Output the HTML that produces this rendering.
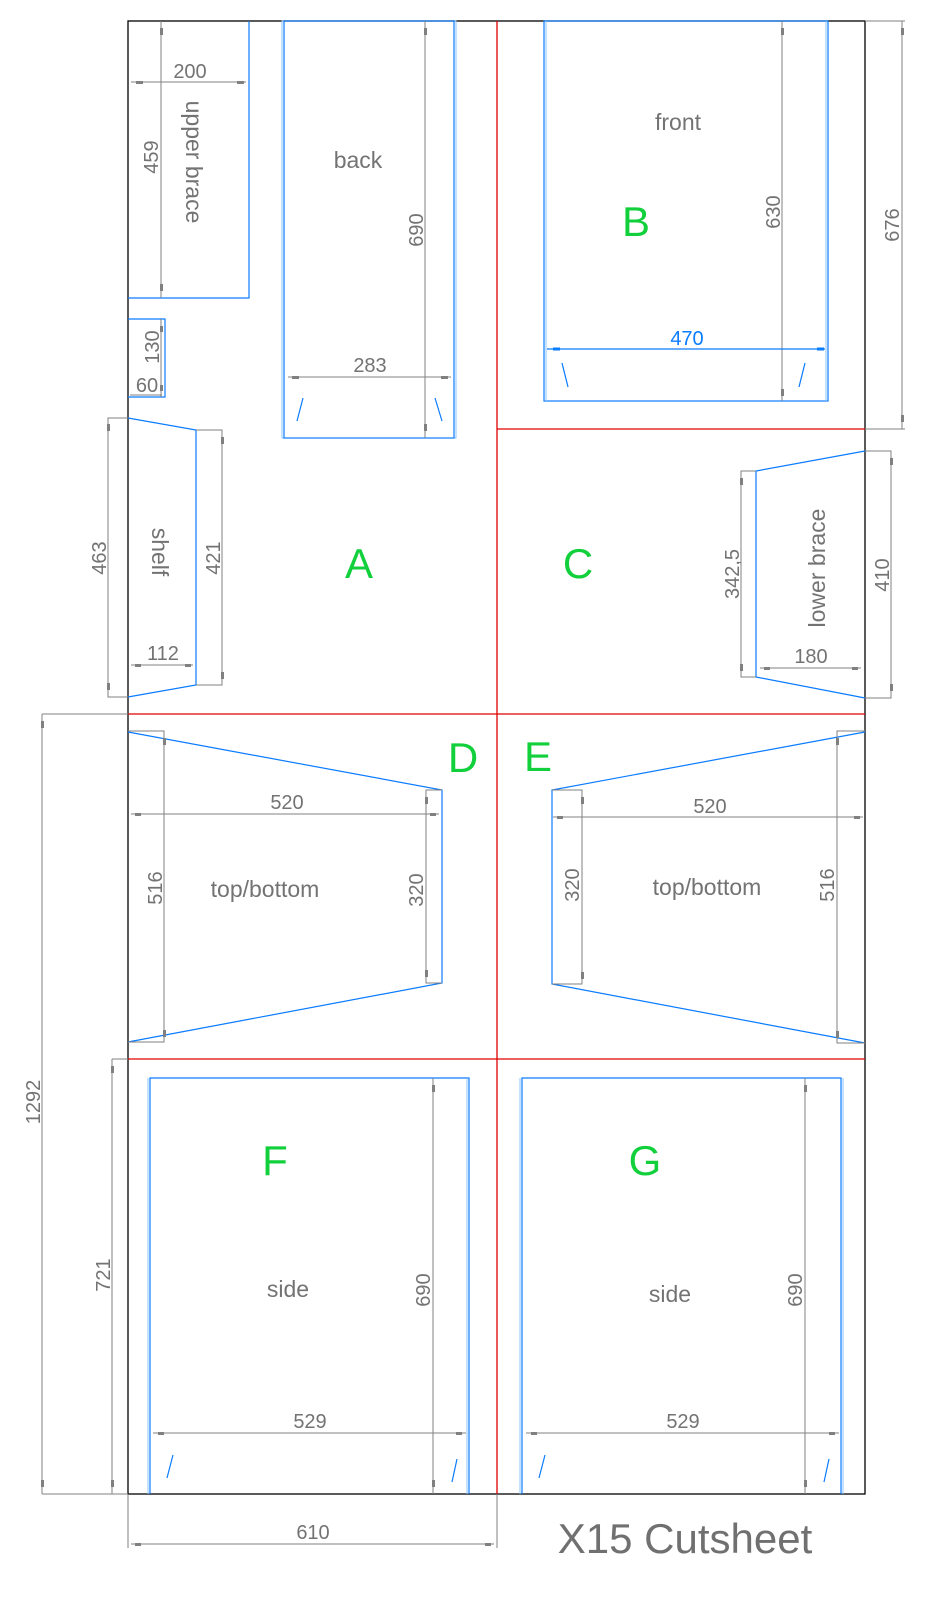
<!DOCTYPE html>
<html><head><meta charset="utf-8"><style>
html,body{margin:0;padding:0;background:#fff;}
svg{display:block;}
text{font-family:"Liberation Sans",sans-serif;fill:#737373;}
.d{stroke:#808080;stroke-width:1;fill:none;}
.b{stroke:#0a7cff;stroke-width:1.2;fill:none;}
.lb{stroke:#8cc4ff;stroke-width:1;fill:none;}
.r{stroke:#e00000;stroke-width:1.3;}
.g{fill:#12d03c;font-size:42px;}
.n{font-size:20px;}
.l{font-size:23px;}
.t{fill:#808080;}
</style></head><body>
<svg width="932" height="1600" viewBox="0 0 932 1600" xmlns="http://www.w3.org/2000/svg">
<!-- outer -->
<rect x="128" y="21" width="737" height="1473" fill="none" stroke="#000" stroke-width="1.3"/>
<line class="r" x1="497" y1="21" x2="497" y2="1494"/>
<line class="r" x1="497" y1="429" x2="865" y2="429"/>
<line class="r" x1="128" y1="714" x2="865" y2="714"/>
<line class="r" x1="128" y1="1059" x2="865" y2="1059"/>

<!-- upper brace -->
<polyline class="b" points="128,298 249,298 249,21"/>
<line class="d" x1="161" y1="21" x2="161" y2="298"/>
<rect class="t" x="160" y="28" width="3" height="7"/><rect class="t" x="160" y="284" width="3" height="7"/>
<line class="d" x1="131" y1="82" x2="246" y2="82"/>
<rect class="t" x="136" y="81" width="7" height="3"/><rect class="t" x="237" y="81" width="7" height="3"/>
<text class="n" x="190" y="78" text-anchor="middle">200</text>
<text class="n" x="158" y="157" text-anchor="middle" transform="rotate(-90 158 157)">459</text>
<text class="l" x="186" y="162" text-anchor="middle" transform="rotate(90 186 162)">upper brace</text>

<!-- small -->
<polyline class="b" points="128,319 165,319 165,397 128,397"/>
<line class="d" x1="161" y1="319" x2="161" y2="397"/>
<rect class="t" x="160" y="326" width="3" height="6"/><rect class="t" x="160" y="385" width="3" height="6"/>
<line class="d" x1="130" y1="395" x2="162" y2="395"/>
<text class="n" x="159" y="347" text-anchor="middle" transform="rotate(-90 159 347)">130</text>
<text class="n" x="147" y="392" text-anchor="middle">60</text>

<!-- back -->
<rect class="lb" x="282" y="21" width="174" height="417"/>
<rect class="b" x="284" y="21" width="170" height="417"/>
<line class="d" x1="425" y1="21" x2="425" y2="438"/>
<rect class="t" x="424" y="28" width="3" height="7"/><rect class="t" x="424" y="424" width="3" height="7"/>
<line class="d" x1="288" y1="377" x2="451" y2="377"/>
<rect class="t" x="292" y="376" width="7" height="3"/><rect class="t" x="441" y="376" width="7" height="3"/>
<text class="n" x="370" y="372" text-anchor="middle">283</text>
<text class="n" x="423" y="230" text-anchor="middle" transform="rotate(-90 423 230)">690</text>
<text class="l" x="358" y="168" text-anchor="middle">back</text>
<line class="b" x1="303" y1="398" x2="297" y2="421" stroke-width="2"/>
<line class="b" x1="435" y1="398" x2="442" y2="421" stroke-width="2"/>

<!-- front B -->
<rect class="b" x="544" y="21" width="284" height="380"/>
<line class="lb" x1="546" y1="21" x2="546" y2="401"/>
<line class="lb" x1="826" y1="21" x2="826" y2="401"/>
<line class="d" x1="782" y1="21" x2="782" y2="401"/>
<rect class="t" x="781" y="28" width="3" height="7"/><rect class="t" x="781" y="389" width="3" height="7"/>
<text class="n" x="780" y="212" text-anchor="middle" transform="rotate(-90 780 212)">630</text>
<line class="d" x1="865" y1="21" x2="905" y2="21"/>
<line class="d" x1="865" y1="429" x2="905" y2="429"/>
<line class="d" x1="902" y1="21" x2="902" y2="429"/>
<rect class="t" x="901" y="28" width="3" height="7"/><rect class="t" x="901" y="415" width="3" height="7"/>
<text class="n" x="899" y="225" text-anchor="middle" transform="rotate(-90 899 225)">676</text>
<line x1="547" y1="349" x2="825" y2="349" stroke="#0a7cff" stroke-width="1.3"/>
<rect x="553" y="347.5" width="7" height="3" fill="#0a7cff"/><rect x="817" y="347.5" width="7" height="3" fill="#0a7cff"/>
<text class="n" x="687" y="345" text-anchor="middle" style="fill:#0a7cff">470</text>
<text class="l" x="678" y="130" text-anchor="middle">front</text>
<text class="g" x="636" y="236" text-anchor="middle">B</text>
<line class="b" x1="562" y1="363" x2="568" y2="387" stroke-width="2"/>
<line class="b" x1="805" y1="363" x2="799" y2="387" stroke-width="2"/>

<!-- shelf -->
<polyline class="b" points="128,418 196,430 196,685 128,697"/>
<polyline class="d" points="128,418 108,418 108,697 128,697"/>
<rect class="t" x="107" y="424" width="3" height="7"/><rect class="t" x="107" y="683" width="3" height="7"/>
<polyline class="d" points="196,430 222,430 222,685 196,685"/>
<rect class="t" x="221" y="437" width="3" height="7"/><rect class="t" x="221" y="672" width="3" height="7"/>
<line class="d" x1="131" y1="665" x2="193" y2="665"/>
<rect class="t" x="135" y="664" width="6" height="3"/><rect class="t" x="185" y="664" width="6" height="3"/>
<text class="n" x="163" y="660" text-anchor="middle">112</text>
<text class="n" x="106" y="558" text-anchor="middle" transform="rotate(-90 106 558)">463</text>
<text class="n" x="220" y="558" text-anchor="middle" transform="rotate(-90 220 558)">421</text>
<text class="l" x="152" y="552" text-anchor="middle" transform="rotate(90 152 552)">shelf</text>
<text class="g" x="359" y="578" text-anchor="middle">A</text>
<text class="g" x="578" y="578" text-anchor="middle">C</text>

<!-- lower brace -->
<polyline class="b" points="865,451 756,471 756,677 865,698"/>
<polyline class="d" points="756,471 741,471 741,677 756,677"/>
<rect class="t" x="740" y="478" width="3" height="7"/><rect class="t" x="740" y="664" width="3" height="7"/>
<polyline class="d" points="865,451 891,451 891,698 865,698"/>
<rect class="t" x="890" y="458" width="3" height="7"/><rect class="t" x="890" y="684" width="3" height="7"/>
<line class="d" x1="760" y1="668" x2="861" y2="668"/>
<rect class="t" x="764" y="667" width="6" height="3"/><rect class="t" x="852" y="667" width="6" height="3"/>
<text class="n" x="811" y="663" text-anchor="middle">180</text>
<text class="n" x="739" y="574" text-anchor="middle" transform="rotate(-90 739 574)">342,5</text>
<text class="n" x="889" y="575" text-anchor="middle" transform="rotate(-90 889 575)">410</text>
<text class="l" x="825" y="568" text-anchor="middle" transform="rotate(-90 825 568)">lower brace</text>

<!-- D -->
<polyline class="b" points="128,732 442,790 442,983 128,1042"/>
<polyline class="d" points="128,731 164,731 164,1042 128,1042"/>
<rect class="t" x="163" y="738" width="3" height="7"/><rect class="t" x="163" y="1030" width="3" height="7"/>
<polyline class="d" points="442,790 426,790 426,983 442,983"/>
<rect class="t" x="425" y="797" width="3" height="7"/><rect class="t" x="425" y="970" width="3" height="7"/>
<line class="d" x1="131" y1="814" x2="439" y2="814"/>
<rect class="t" x="135" y="813" width="6" height="3"/><rect class="t" x="430" y="813" width="6" height="3"/>
<text class="n" x="287" y="809" text-anchor="middle">520</text>
<text class="n" x="162" y="888" text-anchor="middle" transform="rotate(-90 162 888)">516</text>
<text class="n" x="423" y="890" text-anchor="middle" transform="rotate(-90 423 890)">320</text>
<text class="l" x="265" y="897" text-anchor="middle">top/bottom</text>
<text class="g" x="463" y="772" text-anchor="middle">D</text>

<!-- E -->
<polyline class="b" points="865,732 552,790 552,984 865,1043"/>
<polyline class="d" points="552,790 582,790 582,984 552,984"/>
<rect class="t" x="581" y="797" width="3" height="7"/><rect class="t" x="581" y="972" width="3" height="7"/>
<polyline class="d" points="865,731 837,731 837,1043 865,1043"/>
<rect class="t" x="836" y="738" width="3" height="7"/><rect class="t" x="836" y="1031" width="3" height="7"/>
<line class="d" x1="553" y1="817" x2="863" y2="817"/>
<rect class="t" x="557" y="816" width="6" height="3"/><rect class="t" x="854" y="816" width="6" height="3"/>
<text class="n" x="710" y="813" text-anchor="middle">520</text>
<text class="n" x="579" y="885" text-anchor="middle" transform="rotate(-90 579 885)">320</text>
<text class="n" x="834" y="885" text-anchor="middle" transform="rotate(-90 834 885)">516</text>
<text class="l" x="707" y="895" text-anchor="middle">top/bottom</text>
<text class="g" x="538" y="771" text-anchor="middle">E</text>

<!-- F -->
<line class="lb" x1="148" y1="1078" x2="148" y2="1494"/>
<polyline class="b" points="150,1494 150,1078 469,1078 469,1494"/>
<line class="lb" x1="467" y1="1078" x2="467" y2="1494"/>
<line class="d" x1="433" y1="1078" x2="433" y2="1494"/>
<rect class="t" x="432" y="1085" width="3" height="7"/><rect class="t" x="432" y="1480" width="3" height="7"/>
<line class="d" x1="153" y1="1433" x2="466" y2="1433"/>
<rect class="t" x="158" y="1432" width="6" height="3"/><rect class="t" x="456" y="1432" width="6" height="3"/>
<text class="n" x="310" y="1428" text-anchor="middle">529</text>
<text class="n" x="430" y="1290" text-anchor="middle" transform="rotate(-90 430 1290)">690</text>
<text class="l" x="288" y="1297" text-anchor="middle">side</text>
<text class="g" x="275" y="1175" text-anchor="middle">F</text>
<line class="b" x1="173" y1="1455" x2="167" y2="1478" stroke-width="2"/>
<line class="b" x1="457" y1="1459" x2="452" y2="1482" stroke-width="2"/>

<!-- G -->
<line class="lb" x1="520" y1="1078" x2="520" y2="1494"/>
<polyline class="b" points="522,1494 522,1078 841,1078 841,1494"/>
<line class="lb" x1="843" y1="1078" x2="843" y2="1494"/>
<line class="d" x1="805" y1="1078" x2="805" y2="1494"/>
<rect class="t" x="804" y="1085" width="3" height="7"/><rect class="t" x="804" y="1480" width="3" height="7"/>
<line class="d" x1="526" y1="1433" x2="839" y2="1433"/>
<rect class="t" x="531" y="1432" width="6" height="3"/><rect class="t" x="829" y="1432" width="6" height="3"/>
<text class="n" x="683" y="1428" text-anchor="middle">529</text>
<text class="n" x="802" y="1290" text-anchor="middle" transform="rotate(-90 802 1290)">690</text>
<text class="l" x="670" y="1302" text-anchor="middle">side</text>
<text class="g" x="645" y="1175" text-anchor="middle">G</text>
<line class="b" x1="545" y1="1455" x2="539" y2="1478" stroke-width="2"/>
<line class="b" x1="829" y1="1459" x2="824" y2="1482" stroke-width="2"/>

<!-- overall dims -->
<line class="d" x1="42" y1="714" x2="128" y2="714"/>
<line class="d" x1="42" y1="1494" x2="128" y2="1494"/>
<line class="d" x1="42" y1="714" x2="42" y2="1494"/>
<rect class="t" x="41" y="721" width="3" height="7"/><rect class="t" x="41" y="1480" width="3" height="7"/>
<text class="n" x="40" y="1102" text-anchor="middle" transform="rotate(-90 40 1102)">1292</text>
<line class="d" x1="112" y1="1059" x2="128" y2="1059"/>
<line class="d" x1="112" y1="1059" x2="112" y2="1494"/>
<rect class="t" x="111" y="1066" width="3" height="7"/><rect class="t" x="111" y="1480" width="3" height="7"/>
<text class="n" x="110" y="1275" text-anchor="middle" transform="rotate(-90 110 1275)">721</text>
<line class="d" x1="128" y1="1494" x2="128" y2="1548"/>
<line class="d" x1="497" y1="1494" x2="497" y2="1548"/>
<line class="d" x1="131" y1="1544" x2="494" y2="1544"/>
<rect class="t" x="135" y="1543" width="6" height="3"/><rect class="t" x="485" y="1543" width="6" height="3"/>
<text class="n" x="313" y="1539" text-anchor="middle">610</text>

<text x="685" y="1553" text-anchor="middle" style="font-size:42px;fill:#707070">X15 Cutsheet</text>
</svg>
</body></html>
